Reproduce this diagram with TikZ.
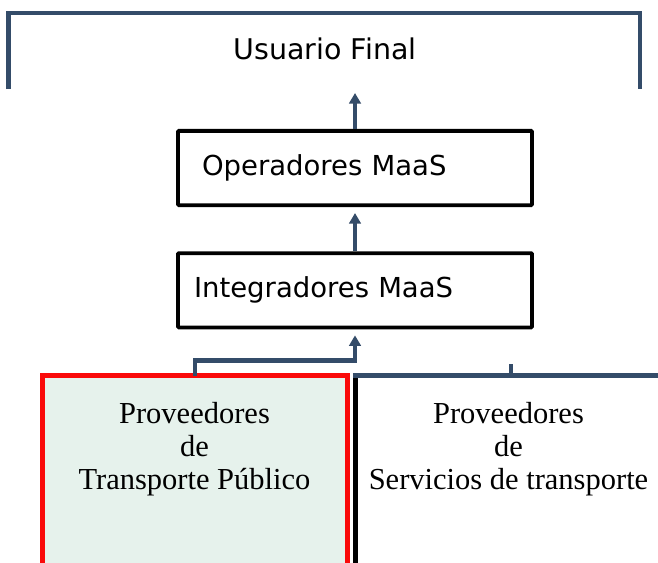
\documentclass[tikz,border=0pt]{standalone}
\usepackage{fontspec}
\setmainfont{Liberation Serif}
\newfontfamily\dvsans{DejaVu Sans}
\usetikzlibrary{arrows.meta}
\definecolor{linkblue}{RGB}{52,76,105}
\definecolor{mintfill}{RGB}{230,242,236}
\definecolor{boxred}{RGB}{250,10,10}
\tikzset{
  layerbox/.style={draw=black, line width=3.8pt, rounded corners=1pt, minimum height=74.3pt,
    align=left, font=\dvsans\fontsize{27.5}{32}\selectfont},
  bluelink/.style={draw=linkblue, line width=4.5pt},
  uparrow/.style={bluelink, -{Triangle[length=10.5pt,width=11.5pt]}},
  provtext/.style={font=\fontsize{30.5}{33}\selectfont, align=center},
}
\begin{document}
\begin{tikzpicture}[x=1pt,y=-1pt]
\useasboundingbox (0,0) rectangle (658,562);
% Usuario Final bracket
\node[anchor=base, font=\dvsans\fontsize{28.5}{32}\selectfont, inner sep=0pt] (usr) at (325,59) {Usuario Final};
\draw[bluelink, line cap=butt] (8.5,89) -- (8.5,13) -- (640,13) -- (640,89);
% Layer boxes
\node[layerbox, minimum width=354pt, text width=306pt, inner xsep=24pt] (ops) at (355,168) {Operadores MaaS};
\node[layerbox, minimum width=354pt, text width=322pt, inner xsep=16pt] (int) at (355,290.3) {Integradores MaaS};
% Bottom boxes
\node[draw=boxred, fill=mintfill, line width=5pt, minimum width=305pt, minimum height=190.5pt] (ptp) at (195,470.75) {};
\node[provtext, anchor=base] (ptpt) at (194.5,489) {Proveedores\\de\\Transporte Público};
\node[minimum width=307pt, minimum height=190.5pt, inner sep=0pt] (sdt) at (509,470.75) {};
\draw[black, line width=5pt] (sdt.north west) -- (sdt.south west);
\draw[bluelink] ([xshift=-2.5pt]sdt.north west) -- ([xshift=5pt]sdt.north east);
\node[provtext, anchor=base] (sdtt) at (508.5,489) {Proveedores\\de\\Servicios de transporte};
% Connectors
\coordinate (toptip) at (355,93);
\draw[uparrow] (ops.north) -- (toptip);
\draw[uparrow, shorten >=6pt] (int.north) -- (ops.south);
\draw[uparrow] ([yshift=-2.5pt]ptp.north) -- ++(0,-15) -| ([yshift=-6pt]int.south);
\draw[bluelink] ([xshift=2pt,yshift=-2.5pt]sdt.north) -- ++(0,-14);
\end{tikzpicture}
\end{document}
